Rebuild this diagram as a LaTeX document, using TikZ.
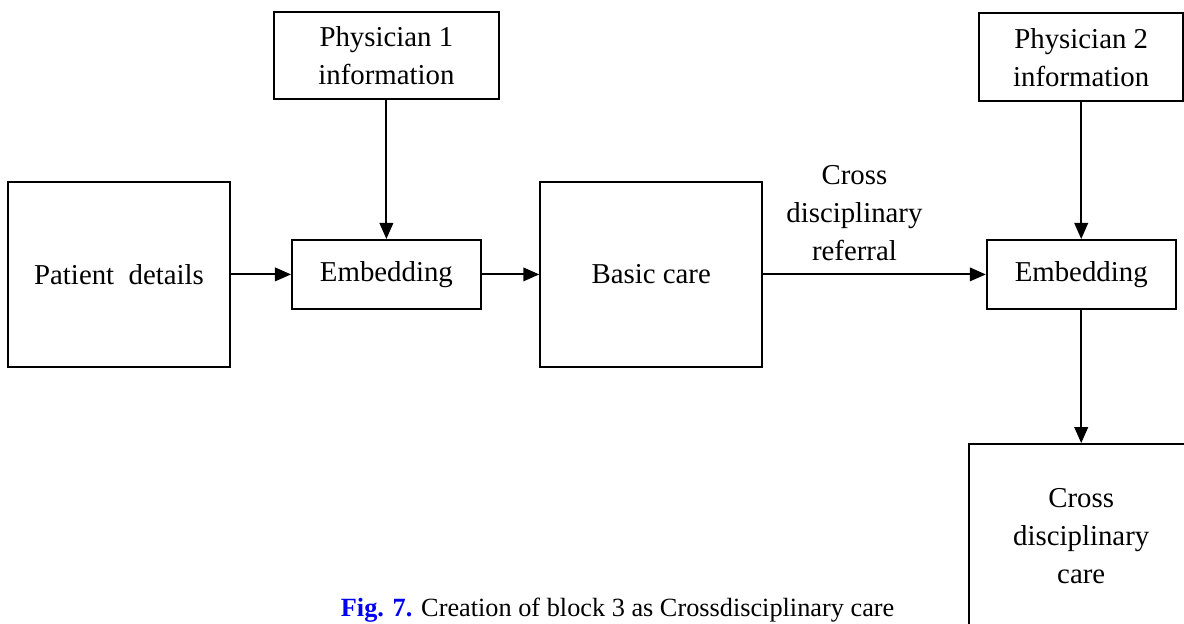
\documentclass[tikz,border=0pt]{standalone}
\usepackage{fontspec}
\setmainfont{Liberation Serif}
\usetikzlibrary{arrows.meta,positioning}
\definecolor{FigBlue}{RGB}{0,0,240}

\begin{document}
\begin{tikzpicture}[
    block/.style={rectangle, draw=black, line width=1.3pt, align=center,
                  inner sep=0pt, font=\fontsize{20.5}{27}\selectfont},
    bigblock/.style={block, minimum width=5.55cm, minimum height=4.625cm},
    embbox/.style={block, minimum width=4.725cm, minimum height=1.725cm},
    arr/.style={-{Triangle[length=0.4cm, width=0.34cm]}, line width=1.3pt}
  ]
    \useasboundingbox (0,0) rectangle (29.6,-15.575);

    \node[block, minimum width=5.625cm, minimum height=2.175cm] (phys1) at (9.66,-1.39) {Physician 1\\information};
    \node[block, minimum width=5.1cm, minimum height=2.2cm] (phys2) at (27.03,-1.43) {Physician 2\\information};

    \node[bigblock] (patient) at (2.975,-6.86) {Patient\ \ details};
    \node[embbox] (emb1) at (9.66,-6.86) {Embedding};
    \node[bigblock] (basic) at (16.28,-6.86) {Basic care};
    \node[embbox] (emb2) at (27.03,-6.86) {Embedding};

    \node[block, minimum width=5.6cm, minimum height=4.6cm] (cross) at (27.03,-13.4) {Cross\\disciplinary\\care};

    \node[font=\fontsize{18.7}{22}\selectfont, anchor=base] (caption) at (15.44,-15.42)
      {\textcolor{FigBlue}{\bfseries Fig. 7.} Creation of block 3 as Crossdisciplinary care};

    \draw[arr] (phys1) -- (emb1);
    \draw[arr] (patient) -- (emb1);
    \draw[arr] (emb1) -- (basic);
    \draw[arr] (basic) -- node[above=0.2cm, pos=0.41, align=center,
      font=\fontsize{20.5}{27}\selectfont] (referral) {Cross\\disciplinary\\referral} (emb2);
    \draw[arr] (phys2) -- (emb2);
    \draw[arr] (emb2) -- (cross);
  \end{tikzpicture}
\end{document}
